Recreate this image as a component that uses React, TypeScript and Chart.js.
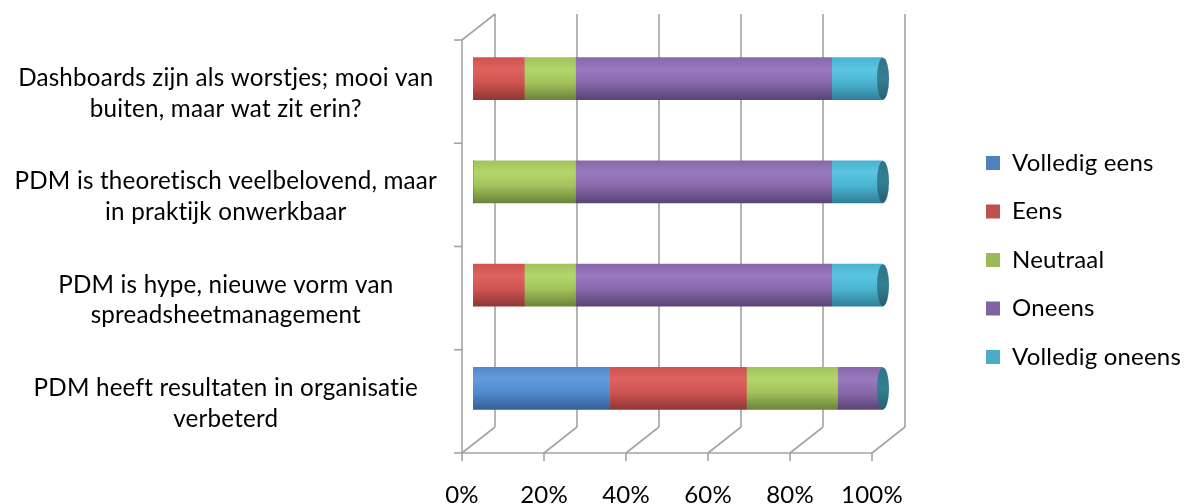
import React, { useEffect, useRef } from "react";
import { Chart, registerables } from "chart.js";

Chart.register(...registerables);

const categories: string[][] = [
  ["Dashboards zijn als worstjes; mooi van", "buiten, maar wat zit erin?"],
  ["PDM is theoretisch veelbelovend, maar", "in praktijk onwerkbaar"],
  ["PDM is hype, nieuwe vorm van", "spreadsheetmanagement"],
  ["PDM heeft resultaten in organisatie", "verbeterd"],
];

const seriesNames = ["Volledig eens", "Eens", "Neutraal", "Oneens", "Volledig oneens"];

const volledigEens = [0, 0, 0, 33.3];
const eens = [12.5, 0, 12.5, 33.4];
const neutraal = [12.5, 25, 12.5, 22.2];
const oneens = [62.5, 62.5, 62.5, 11.1];
const volledigOneens = [12.5, 12.5, 12.5, 0];

const xTicks = [0, 20, 40, 60, 80, 100];

const legendColors = ["#4F81BD", "#C0504D", "#9BBB59", "#8064A2", "#4BACC6"];
const shades = [
  { light: "#629cdf", base: "#5289cb", dark: "#34609a" },
  { light: "#df625f", base: "#cd5451", dark: "#8f3835" },
  { light: "#b3d66a", base: "#a2c25a", dark: "#6c843a" },
  { light: "#9a7abf", base: "#8868ab", dark: "#594574" },
  { light: "#5ac6e3", base: "#4bb3cf", dark: "#2f7f97" },
];

const FONT = "Lato, 'Open Sans', sans-serif";
const BAR = 42;
const DX_BACK = 22;
const DY_BACK = -13;
const DX_FRONT = -11;
const DY_FRONT = 13;
const PLOT_LEFT = 473;
const PLOT_RIGHT = 883;
const PLOT_TOP = 27;
const LEGEND_BOX_X = 986;
const LEGEND_PAD = 24.5;

const spacingPlugin = {
  id: "textSpacing",
  beforeUpdate(chart: any) {
    try {
      chart.ctx.letterSpacing = "0.2px";
    } catch (e) {}
  },
};

const framePlugin = {
  id: "frame3d",
  beforeDatasetsDraw(chart: any) {
    const xs = chart.scales.x;
    const ys = chart.scales.y;
    const ctx = chart.ctx;
    const top = chart.chartArea.top;
    const bottom = chart.chartArea.bottom;
    ctx.save();
    ctx.strokeStyle = "#a3a3a3";
    ctx.lineWidth = 1.6;
    const line = (x1: number, y1: number, x2: number, y2: number) => {
      ctx.beginPath();
      ctx.moveTo(x1, y1);
      ctx.lineTo(x2, y2);
      ctx.stroke();
    };
    xTicks.forEach((v) => {
      const px = xs.getPixelForValue(v);
      line(px + DX_BACK, top + DY_BACK, px + DX_BACK, bottom + DY_BACK);
    });
    const x0 = xs.getPixelForValue(0);
    const x1 = xs.getPixelForValue(100);
    line(x0 + DX_FRONT, top + DY_FRONT, x0 + DX_FRONT, bottom + DY_FRONT);
    line(x0 + DX_FRONT, top + DY_FRONT, x0 + DX_BACK, top + DY_BACK);
    const n = categories.length;
    for (let i = 0; i <= n; i++) {
      const y = i === 0 ? top : i === n ? bottom : (ys.getPixelForValue(i - 1) + ys.getPixelForValue(i)) / 2;
      line(x0 + DX_FRONT - 8, y + DY_FRONT, x0 + DX_FRONT, y + DY_FRONT);
    }
    line(x0 + DX_FRONT, bottom + DY_FRONT, x1 + DX_FRONT, bottom + DY_FRONT);
    xTicks.forEach((v) => {
      const px = xs.getPixelForValue(v);
      line(px + DX_FRONT, bottom + DY_FRONT, px + DX_BACK, bottom + DY_BACK);
      line(px + DX_FRONT, bottom + DY_FRONT, px + DX_FRONT, bottom + DY_FRONT + 8);
    });
    ctx.restore();
  },
  afterDatasetsDraw(chart: any) {
    const xs = chart.scales.x;
    const ys = chart.scales.y;
    const ctx = chart.ctx;
    ctx.save();
    categories.forEach((_, i) => {
      const px = xs.getPixelForValue(100);
      const py = ys.getPixelForValue(i);
      const g = ctx.createLinearGradient(0, py - BAR / 2, 0, py + BAR / 2);
      g.addColorStop(0, "#2f7487");
      g.addColorStop(0.5, "#347f94");
      g.addColorStop(1, "#275f70");
      ctx.fillStyle = g;
      ctx.beginPath();
      ctx.ellipse(px, py, 6, BAR / 2, 0, 0, Math.PI * 2);
      ctx.fill();
    });
    ctx.restore();
  },
};

function makeFill(idx: number) {
  return (c: any) => {
    const s = shades[idx];
    const chart = c.chart;
    const ys = chart.scales && chart.scales.y;
    if (!ys || c.dataIndex == null || !chart.chartArea) return s.base;
    const yc = ys.getPixelForValue(c.dataIndex);
    const g = chart.ctx.createLinearGradient(0, yc - BAR / 2, 0, yc + BAR / 2);
    g.addColorStop(0, s.base);
    g.addColorStop(0.28, s.light);
    g.addColorStop(0.6, s.base);
    g.addColorStop(1, s.dark);
    return g;
  };
}

export default function App() {
  const ref = useRef<HTMLCanvasElement | null>(null);
  useEffect(() => {
    if (!ref.current) return;
    const seriesData = [volledigEens, eens, neutraal, oneens, volledigOneens];
    const chart = new Chart(ref.current, {
      type: "bar",
      data: {
        labels: categories,
        datasets: seriesData.map((d, i) => ({
          label: seriesNames[i],
          data: d,
          backgroundColor: makeFill(i),
          borderWidth: 0,
          barThickness: BAR,
        })),
      },
      options: {
        indexAxis: "y",
        responsive: false,
        animation: false,
        events: [],
        layout: { padding: { top: 16, right: 0, left: 0, bottom: 0 } },
        scales: {
          x: {
            stacked: true,
            min: 0,
            max: 100,
            afterBuildTicks: (s: any) => {
              s.ticks = xTicks.map((v) => ({ value: v }));
            },
            afterFit: (s: any) => {
              s.height = 64;
              s.paddingLeft = 0;
              s.paddingRight = 0;
            },
            grid: { display: false, drawTicks: false },
            border: { display: false },
            ticks: {
              padding: 41,
              labelOffset: DX_FRONT,
              color: "#000",
              font: { family: FONT, size: 24 },
              callback: (v: any) => v + "%",
              maxRotation: 0,
            },
          },
          y: {
            stacked: true,
            afterFit: (s: any) => {
              s.width = PLOT_LEFT;
              s.paddingTop = PLOT_TOP;
              s.paddingBottom = 0;
            },
            grid: { display: false, drawTicks: false },
            border: { display: false },
            ticks: {
              crossAlign: "center",
              padding: 36,
              labelOffset: 15,
              color: "#000",
              font: { family: FONT, size: 24.2, lineHeight: 1.27 },
            },
          },
          yRight: {
            type: "category",
            position: "right",
            display: true,
            afterFit: (s: any) => {
              const lg = s.chart.legend;
              s.width = Math.max(0, s.chart.width - (lg ? lg.width : 0) - PLOT_RIGHT);
              s.paddingTop = 0;
              s.paddingBottom = 0;
            },
            grid: { display: false, drawTicks: false },
            border: { display: false },
            ticks: { display: false },
          },
        },
        plugins: {
          tooltip: { enabled: false },
          title: { display: false },
          legend: {
            position: "right",
            labels: {
              boxWidth: 14,
              boxHeight: 14,
              padding: LEGEND_PAD,
              color: "#000",
              font: { family: FONT, size: 24 },
              generateLabels: () =>
                seriesNames.map((name, i) => ({
                  text: name,
                  fillStyle: legendColors[i],
                  strokeStyle: legendColors[i],
                  lineWidth: 0,
                  hidden: false,
                  datasetIndex: i,
                  fontColor: "#000",
                })),
            },
          },
        },
      } as any,
      plugins: [spacingPlugin, framePlugin],
    });
    const lg: any = (chart as any).legend;
    if (lg) {
      const origFit = lg.fit.bind(lg);
      lg.fit = function () {
        origFit();
        this.width = chart.width - LEGEND_BOX_X + LEGEND_PAD;
      };
    }
    chart.update();
    return () => chart.destroy();
  }, []);
  return (
    <div style={{ position: "fixed", left: 0, top: 0, width: 1188, height: 504, background: "#fff" }}>
      <canvas ref={ref} width={1188} height={504} style={{ display: "block" }} />
    </div>
  );
}
